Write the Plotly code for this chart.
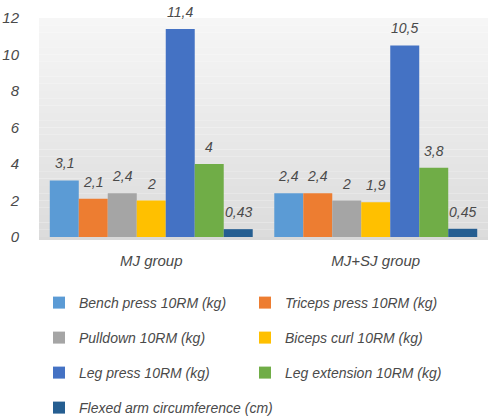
import plotly.graph_objects as go

categories = ["MJ group", "MJ+SJ group"]
series_names = [
    "Bench press 10RM (kg)",
    "Triceps press 10RM (kg)",
    "Pulldown 10RM (kg)",
    "Biceps curl 10RM (kg)",
    "Leg press 10RM (kg)",
    "Leg extension 10RM (kg)",
    "Flexed arm circumference (cm)",
]
bench = [3.1, 2.4]
triceps = [2.1, 2.4]
pulldown = [2.4, 2.0]
biceps = [2.0, 1.9]
legpress = [11.4, 10.5]
legext = [4.0, 3.8]
flexed = [0.43, 0.45]
series_values = [bench, triceps, pulldown, biceps, legpress, legext, flexed]
colors = ["#5B9BD5", "#ED7D31", "#A5A5A5", "#FFC000", "#4472C4", "#70AD47", "#255E91"]
y_ticks = [0, 2, 4, 6, 8, 10, 12]

W, H = 490, 420
ML, MR, MT, MB = 39, 2, 18, 183
BARGAP = 0.096
FONT = "Liberation Sans"
TXT = "#4a4a4a"

legend_rows = ["legend", "legend", "legend2", "legend2", "legend3", "legend3", "legend4"]

fig = go.Figure()
for name, vals, col, lg in zip(series_names, series_values, colors, legend_rows):
    fig.add_trace(go.Bar(x=categories, y=vals, name=name, marker=dict(color=col, line=dict(width=0)),
                         legend=lg))

# data labels
n = len(series_names)
plot_w = W - ML - MR
bar_px = plot_w / len(categories) * (1 - BARGAP) / n
for i, vals in enumerate(series_values):
    for cat, v in zip(categories, vals):
        fig.add_annotation(x=cat, y=v, text=f"{v:g}".replace(".", ","), showarrow=False,
                           xshift=(i - (n - 1) / 2) * bar_px, yshift=17, yanchor="middle",
                           font=dict(family=FONT, size=14, color=TXT, style="italic"))

# gradient background
steps = 30
for k in range(steps):
    t = k / (steps - 1)
    g = int(round(0xdc + (0xf6 - 0xdc) * t))
    fig.add_shape(type="rect", xref="x domain", yref="y domain", x0=0, x1=1,
                  y0=k / steps, y1=(k + 1) / steps, fillcolor=f"rgb({g},{g},{g})",
                  line=dict(width=0), layer="below")

leg_common = dict(orientation="h", xanchor="left", yanchor="middle",
                  entrywidthmode="pixels", bgcolor="rgba(0,0,0,0)",
                  font=dict(family=FONT, size=14, color=TXT, style="italic"))
row_y = [303, 338, 373, 408]
paper_h = H - MT - MB
ys = [(H - MB - py) / paper_h for py in row_y]
LX = 0.0

fig.update_layout(
    width=W, height=H,
    margin=dict(l=ML, r=MR, t=MT, b=MB, autoexpand=False),
    paper_bgcolor="white",
    plot_bgcolor="rgba(0,0,0,0)",
    barmode="group", bargap=BARGAP, bargroupgap=0,
    font=dict(family=FONT, color=TXT, style="italic"),
    legend=dict(x=LX, y=ys[0], entrywidth=161, **leg_common),
    legend2=dict(x=LX, y=ys[1], entrywidth=161, **leg_common),
    legend3=dict(x=LX, y=ys[2], entrywidth=161, **leg_common),
    legend4=dict(x=LX, y=ys[3], entrywidth=260, **leg_common),
    showlegend=True,
    xaxis=dict(showline=True, linecolor="#d9d9d9", linewidth=3, ticks="outside", ticklen=8,
               tickcolor="rgba(0,0,0,0)", tickfont=dict(family=FONT, size=15, color=TXT, style="italic")),
    yaxis=dict(range=[0, 12], tickvals=y_ticks, showgrid=False, zeroline=False, ticks="outside",
               ticklen=16, tickcolor="rgba(0,0,0,0)",
               tickfont=dict(family=FONT, size=15, color=TXT, style="italic")),
)

fig.write_html("out.html")
